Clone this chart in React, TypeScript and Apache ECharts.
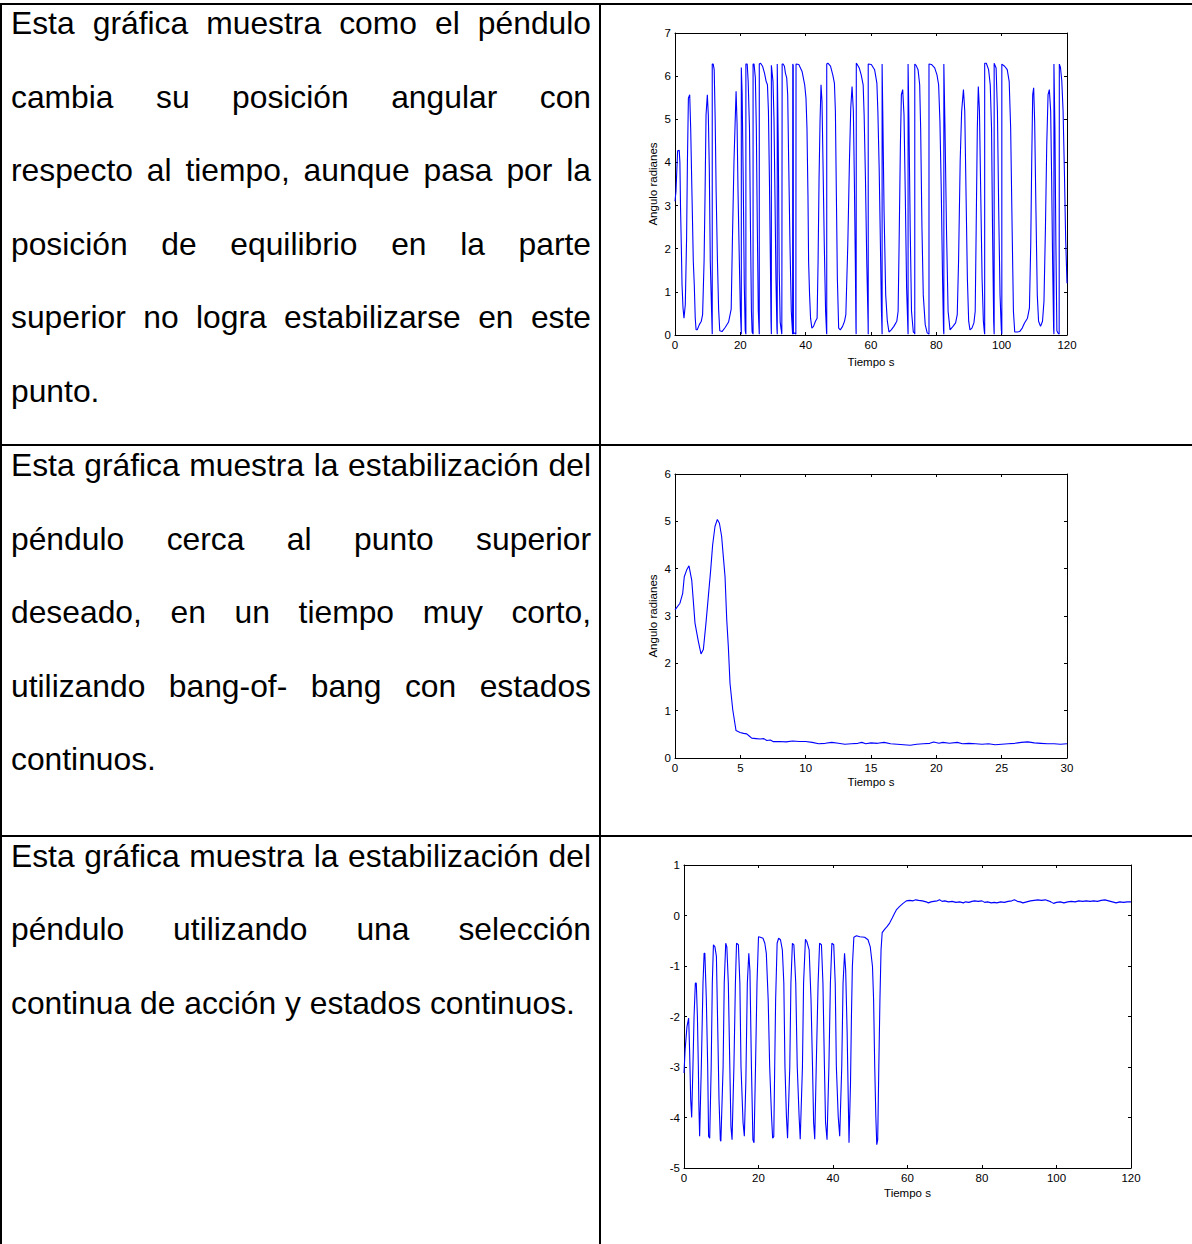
import React, { useEffect, useRef } from "react";
import * as echarts from "echarts";

// ---------- texts ----------
const CELL1_LINES = [
  "Esta gráfica muestra como el péndulo",
  "cambia su posición angular con",
  "respecto al tiempo, aunque pasa por la",
  "posición de equilibrio en la parte",
  "superior no logra estabilizarse en este",
  "punto.",
];
const CELL2_LINES = [
  "Esta gráfica muestra la estabilización del",
  "péndulo cerca al punto superior",
  "deseado, en un tiempo muy corto,",
  "utilizando bang-of- bang con estados",
  "continuos.",
];
const CELL3_LINES = [
  "Esta gráfica muestra la estabilización del",
  "péndulo utilizando una selección",
  "continua de acción y estados continuos.",
];

const X_NAME = "Tiempo s";
const Y_NAME = "Angulo radianes";

// ---------- axis ranges ----------
const X1_RANGE = [0, 120, 20];
const Y1_RANGE = [0, 7, 1];
const X2_RANGE = [0, 30, 5];
const Y2_RANGE = [0, 6, 1];
const X3_RANGE = [0, 120, 20];
const Y3_RANGE = [-5, 1, 1];

// ---------- data (time s, angle rad) ----------
const PEND1_DATA: number[][] = [
  [0, 3.1], [0.3, 3.33], [0.8, 4.27], [1.3, 4.28], [1.5, 4.0], [1.7, 2.94], [1.95, 2.0], [2.15, 1.17], [2.45, 0.63], [2.75, 0.39],
  [3.15, 0.7], [3.55, 2.25], [3.8, 4.0], [4.1, 5.49], [4.5, 5.57], [4.8, 4.8], [5.2, 3.25], [5.6, 1.71], [5.9, 1.17], [6.2, 0.39],
  [6.45, 0.12], [6.8, 0.12], [7.45, 0.24], [8.05, 0.32], [8.45, 0.47], [8.9, 1.71], [9.2, 3.25], [9.5, 5.1], [9.9, 5.57], [10.2, 5.1],
  [10.5, 3.87], [10.8, 1.71], [11.2, 0.55], [11.4, 0.02], [11.4, 6.28], [11.7, 6.28], [12.0, 6.15], [12.3, 5.0], [12.6, 3.3], [13.0, 1.7],
  [13.35, 0.6], [13.7, 0.1], [14.4, 0.08], [15.4, 0.18], [16.4, 0.3], [17.2, 0.6], [17.6, 2.3], [18.05, 4.0], [18.4, 4.9], [18.7, 5.65],
  [19.0, 4.9], [19.3, 3.3], [19.7, 1.7], [20.0, 0.6], [20.3, 0.02], [20.3, 6.2], [20.55, 5.6], [20.9, 3.5], [21.2, 1.2], [21.5, 0.1],
  [21.7, 0.02], [21.7, 6.28], [22.1, 6.28], [22.4, 5.88], [22.8, 4.8], [23.1, 2.5], [23.4, 0.55], [23.6, 0.07], [23.9, 0.02], [23.9, 6.28],
  [24.2, 6.28], [24.6, 5.96], [24.9, 4.8], [25.2, 2.5], [25.5, 0.55], [25.8, 0.02], [25.8, 6.28], [26.2, 6.3], [26.8, 6.23], [27.4, 6.07],
  [27.9, 5.88], [28.3, 5.8], [28.6, 5.2], [28.9, 3.64], [29.2, 1.7], [29.4, 0.3], [29.5, 0.02], [29.5, 6.25], [29.7, 6.25], [30.0, 5.88],
  [30.3, 5.03], [30.6, 3.25], [30.9, 1.32], [31.2, 0.16], [31.3, 0.02], [31.3, 6.28], [31.6, 4.5], [31.9, 1.5], [32.2, 0.3], [32.7, 0.02],
  [32.8, 0.02], [32.8, 6.28], [33.1, 6.28], [33.5, 6.23], [33.8, 6.07], [34.2, 5.96], [34.5, 5.57], [34.8, 4.03], [35.2, 2.1], [35.6, 0.55],
  [36.0, 0.02], [36.05, 6.28], [36.2, 6.25], [36.25, 0.03], [36.6, 0.05], [37.0, 0.02], [37.05, 6.28], [37.9, 6.27], [38.9, 6.11], [39.7, 5.8],
  [40.1, 5.49], [40.4, 4.8], [40.7, 3.25], [40.9, 1.7], [41.2, 0.93], [41.5, 0.39], [41.9, 0.16], [42.4, 0.2], [43.0, 0.32], [43.5, 0.39],
  [43.8, 1.7], [44.1, 3.64], [44.4, 4.95], [44.7, 5.8], [45.0, 5.42], [45.3, 4.03], [45.7, 2.1], [46.1, 0.55], [46.4, 0.05], [46.45, 0.02],
  [46.45, 6.28], [46.8, 6.3], [47.6, 6.23], [48.3, 6.03], [48.8, 5.84], [49.1, 5.19], [49.4, 3.25], [49.7, 1.32], [50.1, 0.16], [50.6, 0.12],
  [51.3, 0.2], [51.9, 0.32], [52.3, 0.47], [52.9, 2.1], [53.4, 4.03], [53.8, 5.26], [54.2, 5.76], [54.6, 5.19], [54.9, 3.64], [55.2, 1.7],
  [55.4, 0.16], [55.45, 0.02], [55.5, 6.3], [55.8, 6.27], [56.4, 6.19], [57.0, 6.03], [57.6, 5.8], [57.9, 5.1], [58.3, 3.64], [58.7, 1.7],
  [59.1, 0.3], [59.15, 0.02], [59.15, 6.28], [60.1, 6.27], [61.1, 6.15], [61.8, 5.84], [62.1, 5.19], [62.5, 3.87], [62.8, 2.48], [63.2, 0.55],
  [63.4, 0.02], [63.4, 6.28], [63.6, 5.19], [64.0, 2.87], [64.5, 0.93], [65.0, 0.32], [65.5, 0.07], [66.2, 0.12], [67.0, 0.2], [67.9, 0.32],
  [68.3, 0.55], [68.6, 2.1], [69.0, 4.41], [69.3, 5.57], [69.7, 5.69], [70.1, 5.11], [70.5, 3.25], [70.9, 1.09], [71.3, 0.12], [71.35, 0.02],
  [71.35, 6.28], [71.6, 5.03], [72.0, 2.48], [72.4, 0.55], [72.95, 0.07], [73.3, 0.05], [73.4, 0.02], [73.4, 6.28], [73.8, 6.25], [74.4, 6.15],
  [74.9, 5.8], [75.2, 4.8], [75.6, 2.48], [76.0, 0.93], [76.6, 0.24], [77.2, 0.05], [77.75, 0.02], [77.75, 6.28], [78.5, 6.27], [79.5, 6.19],
  [80.2, 6.03], [80.7, 5.8], [81.1, 4.95], [81.5, 3.41], [81.9, 1.32], [82.2, 0.12], [82.3, 0.02], [82.3, 6.28], [82.65, 4.8], [83.1, 2.48],
  [83.6, 0.55], [84.2, 0.12], [85.1, 0.2], [85.9, 0.28], [86.4, 0.47], [86.8, 1.7], [87.3, 4.03], [87.75, 5.19], [88.3, 5.69], [88.7, 5.19],
  [89.1, 3.25], [89.5, 1.32], [89.9, 0.32], [90.3, 0.12], [90.9, 0.16], [91.5, 0.28], [91.9, 0.55], [92.2, 2.48], [92.55, 4.8], [92.85, 5.76],
  [93.2, 5.19], [93.6, 3.25], [94.0, 1.32], [94.4, 0.32], [94.7, 0.07], [94.8, 0.02], [94.8, 6.3], [95.3, 6.3], [96.0, 6.15], [96.5, 5.8],
  [96.9, 4.8], [97.2, 2.48], [97.55, 0.32], [97.7, 0.02], [97.7, 6.3], [98.3, 6.19], [98.7, 5.19], [99.1, 2.87], [99.5, 0.93], [99.9, 0.12],
  [100.05, 0.02], [100.05, 6.28], [100.9, 6.23], [101.7, 6.15], [102.3, 5.88], [102.75, 4.8], [103.2, 2.48], [103.6, 0.55], [104.0, 0.07], [104.8, 0.07],
  [105.5, 0.08], [106.3, 0.16], [107.0, 0.28], [107.9, 0.39], [108.5, 0.63], [108.9, 2.1], [109.2, 4.03], [109.5, 5.57], [109.8, 5.73], [110.1, 4.95],
  [110.5, 2.87], [110.9, 0.93], [111.3, 0.32], [111.9, 0.2], [112.5, 0.32], [112.95, 0.78], [113.4, 2.48], [113.8, 4.41], [114.2, 5.57], [114.6, 5.69],
  [115.0, 5.19], [115.3, 3.64], [115.6, 1.7], [115.9, 0.16], [116.0, 0.02], [116.0, 6.28], [116.3, 4.8], [116.6, 2.1], [116.9, 0.1], [117.2, 0.05],
  [117.6, 0.02], [117.65, 6.28], [118.0, 6.2], [118.4, 5.9], [118.8, 5.2], [119.2, 3.8], [119.6, 2.2], [120, 1.2],
];

const PEND2_DATA: number[][] = [
  [0, 3.13], [0.38, 3.27], [0.59, 3.48], [0.71, 3.83], [0.89, 3.97], [1.07, 4.06], [1.28, 3.76], [1.53, 2.85], [1.79, 2.46], [1.99, 2.2],
  [2.17, 2.29], [2.37, 2.85], [2.55, 3.41], [2.73, 3.97], [2.88, 4.5], [3.06, 4.89], [3.24, 5.04], [3.4, 4.96], [3.57, 4.68], [3.7, 4.25],
  [3.83, 3.83], [3.96, 2.92], [4.08, 2.36], [4.21, 1.58], [4.42, 1.02], [4.67, 0.58], [4.98, 0.54], [5.25, 0.52], [5.49, 0.51], [5.7, 0.46],
  [5.87, 0.42], [6.2, 0.41], [6.51, 0.4], [6.8, 0.41], [7.02, 0.37], [7.3, 0.38], [7.53, 0.345], [8.0, 0.35], [8.5, 0.34], [9.0, 0.36],
  [9.5, 0.35], [10.0, 0.35], [10.5, 0.33], [11.0, 0.3], [11.5, 0.31], [12.0, 0.33], [12.5, 0.31], [13.0, 0.29], [13.5, 0.3], [14.0, 0.31],
  [14.3, 0.33], [14.6, 0.3], [15.0, 0.32], [15.5, 0.31], [16.0, 0.33], [16.5, 0.3], [17.0, 0.29], [17.5, 0.28], [18.0, 0.27], [18.5, 0.29],
  [19.0, 0.3], [19.5, 0.31], [19.8, 0.34], [20.2, 0.31], [20.5, 0.33], [21.0, 0.31], [21.6, 0.33], [22.0, 0.3], [22.5, 0.31], [23.0, 0.3],
  [23.5, 0.29], [24.0, 0.3], [24.5, 0.28], [25.0, 0.29], [25.5, 0.3], [26.0, 0.31], [26.5, 0.33], [27.0, 0.34], [27.5, 0.32], [28.0, 0.31],
  [28.5, 0.3], [29.0, 0.3], [29.5, 0.29], [30.0, 0.3],
];

const PEND3_DATA: number[][] = [
  [0, -3.12], [0.3, -2.66], [0.8, -2.2], [1.25, -2.03], [1.5, -2.66], [1.8, -3.65], [2.06, -4.0], [2.4, -2.99], [2.7, -2.0], [3.04, -1.34],
  [3.3, -1.34], [3.6, -2.0], [3.85, -2.99], [4.0, -3.78], [4.2, -4.37], [4.65, -2.99], [5.1, -1.34], [5.4, -0.75], [5.6, -0.75], [6.0, -1.67],
  [6.36, -2.99], [6.6, -4.37], [6.9, -4.41], [7.3, -2.99], [7.6, -1.34], [7.9, -0.58], [8.3, -0.62], [8.7, -0.81], [9.0, -2.0], [9.4, -3.65],
  [9.75, -4.44], [9.9, -4.47], [10.5, -2.99], [10.8, -1.34], [11.2, -0.55], [11.5, -0.62], [11.9, -1.34], [12.3, -2.99], [12.6, -4.18], [12.9, -4.44],
  [13.4, -2.99], [13.8, -1.34], [14.1, -0.55], [14.6, -0.58], [15.0, -1.34], [15.3, -2.99], [15.85, -4.1], [16.2, -4.37], [16.6, -3.3], [17.0, -1.34],
  [17.4, -0.75], [17.7, -1.1], [18.1, -2.99], [18.5, -4.44], [18.8, -4.5], [19.2, -2.99], [19.6, -1.34], [20.0, -0.42], [20.5, -0.43], [21.2, -0.45],
  [21.7, -0.55], [22.1, -0.75], [22.6, -1.67], [23.0, -2.99], [23.5, -3.98], [23.8, -4.41], [24.1, -4.38], [24.35, -2.99], [24.6, -1.67], [25.0, -0.55],
  [25.4, -0.45], [25.9, -0.48], [26.4, -0.68], [26.8, -1.34], [27.1, -2.99], [27.5, -3.98], [27.8, -4.41], [28.4, -2.99], [28.7, -1.34], [29.1, -0.55],
  [29.5, -0.58], [30.0, -1.34], [30.4, -2.99], [30.9, -3.98], [31.2, -4.43], [31.8, -2.99], [32.1, -1.34], [32.6, -0.47], [33.0, -0.52], [33.6, -0.68],
  [34.1, -1.67], [34.5, -2.99], [34.8, -4.1], [35.1, -4.43], [35.5, -2.99], [36.0, -1.34], [36.4, -0.55], [36.9, -0.58], [37.3, -1.34], [37.7, -2.99],
  [38.0, -4.1], [38.4, -4.44], [38.9, -2.99], [39.3, -1.34], [39.7, -0.55], [40.2, -0.58], [40.6, -1.34], [40.9, -2.99], [41.4, -3.98], [41.8, -4.37],
  [42.35, -2.99], [42.7, -1.34], [43.1, -0.75], [43.4, -1.08], [43.8, -2.33], [44.1, -3.65], [44.3, -4.5], [44.7, -3.32], [44.95, -2.0], [45.2, -1.01],
  [45.6, -0.43], [46.3, -0.4], [47.2, -0.42], [48.5, -0.43], [49.4, -0.48], [50.0, -0.62], [50.6, -1.01], [50.9, -1.67], [51.2, -2.99], [51.5, -3.98],
  [51.75, -4.54], [52.0, -4.44], [52.3, -2.99], [52.6, -1.67], [52.9, -0.68], [53.2, -0.34], [53.9, -0.27], [54.5, -0.22], [55.2, -0.15], [55.9, -0.05],
  [56.5, 0.04], [57.0, 0.11], [57.9, 0.18], [58.8, 0.24], [59.7, 0.29], [60.6, 0.3], [61.5, 0.29], [62.2, 0.31], [63, 0.3], [64, 0.29],
  [65, 0.27], [65.6, 0.25], [66.3, 0.27], [67, 0.28], [68, 0.29], [68.6, 0.31], [69.3, 0.28], [70, 0.29], [71, 0.27], [72, 0.28],
  [73, 0.26], [74, 0.27], [75, 0.25], [75.6, 0.27], [76.5, 0.26], [77.3, 0.28], [78, 0.29], [79, 0.28], [80, 0.29], [80.7, 0.26],
  [81.5, 0.27], [82.5, 0.25], [83.3, 0.26], [84, 0.25], [85, 0.27], [86, 0.26], [87, 0.28], [88, 0.29], [88.7, 0.31], [89.5, 0.28],
  [90.3, 0.27], [91, 0.25], [92, 0.27], [93, 0.29], [94, 0.3], [95, 0.31], [96, 0.3], [97, 0.31], [97.8, 0.29], [98.5, 0.27],
  [99.2, 0.24], [100, 0.26], [101, 0.27], [102, 0.25], [103, 0.27], [104, 0.28], [105, 0.27], [106, 0.29], [107, 0.28], [108, 0.29],
  [109, 0.28], [110, 0.29], [111, 0.28], [112, 0.3], [113, 0.31], [114, 0.29], [115, 0.27], [116, 0.25], [117, 0.27], [118, 0.26],
  [119, 0.27], [120, 0.27],
];

// ---------- layout ----------
const FONT = '"Liberation Sans", Arial, Helvetica, sans-serif';
const W = 1192;
const H = 1244;
const TEXT_LEFT = 11;
const TEXT_WIDTH = 580;
const TEXT_SIZE = 31.8;
const LINE_PITCH = 73.5;
const CELL_BASELINES = [34, 476, 866.5];

const GRIDS = [
  { left: 675, top: 33, width: 392, height: 302, xGap: 21, yGap: 16, labelSize: 11.5 },
  { left: 675, top: 474, width: 392, height: 284, xGap: 18, yGap: 16, labelSize: 11.5 },
  { left: 684, top: 865, width: 447, height: 303, xGap: 19, yGap: 16, labelSize: 11.5 },
];

function axisPair(kind: "x" | "y", gi: number, range: number[], name: string | null, gap: number, size: number) {
  const base = {
    type: "value",
    gridIndex: gi,
    min: range[0],
    max: range[1],
    interval: range[2],
    splitLine: { show: false },
    axisLine: { show: true, onZero: false, lineStyle: { color: "#000", width: 1 } },
    axisTick: { show: true, inside: true, length: 3, lineStyle: { color: "#000", width: 1 } },
  };
  const main: any = {
    ...base,
    position: kind === "x" ? "bottom" : "left",
    axisLabel: { color: "#000", fontSize: size, fontFamily: FONT, margin: 4 },
  };
  if (name) {
    main.name = name;
    main.nameLocation = "middle";
    main.nameGap = gap;
    main.nameTextStyle = { color: "#000", fontSize: 11.5, fontFamily: FONT };
  }
  const mirror: any = {
    ...base,
    position: kind === "x" ? "top" : "right",
    axisLabel: { show: false },
  };
  return [main, mirror];
}

function buildOption() {
  const xAxis = [
    ...axisPair("x", 0, X1_RANGE, X_NAME, GRIDS[0].xGap, GRIDS[0].labelSize),
    ...axisPair("x", 1, X2_RANGE, X_NAME, GRIDS[1].xGap, GRIDS[1].labelSize),
    ...axisPair("x", 2, X3_RANGE, X_NAME, GRIDS[2].xGap, GRIDS[2].labelSize),
  ];
  const yAxis = [
    ...axisPair("y", 0, Y1_RANGE, Y_NAME, GRIDS[0].yGap, GRIDS[0].labelSize),
    ...axisPair("y", 1, Y2_RANGE, Y_NAME, GRIDS[1].yGap, GRIDS[1].labelSize),
    ...axisPair("y", 2, Y3_RANGE, null, GRIDS[2].yGap, GRIDS[2].labelSize),
  ];
  const datasets = [PEND1_DATA, PEND2_DATA, PEND3_DATA];
  return {
    animation: false,
    backgroundColor: "transparent",
    grid: GRIDS.map((g) => ({ left: g.left, top: g.top, width: g.width, height: g.height, containLabel: false })),
    xAxis,
    yAxis,
    series: datasets.map((d, i) => ({
      type: "line",
      xAxisIndex: i * 2,
      yAxisIndex: i * 2,
      data: d,
      showSymbol: false,
      symbol: "none",
      clip: true,
      lineStyle: { color: "#0000ff", width: 1.1 },
      itemStyle: { color: "#0000ff" },
    })),
  };
}

function CellText({ lines, baseline }: { lines: string[]; baseline: number }) {
  return (
    <>
      {lines.map((ln, i) => {
        const last = i === lines.length - 1;
        return (
          <div
            key={i}
            style={{
              position: "absolute",
              left: TEXT_LEFT,
              width: TEXT_WIDTH,
              top: baseline + i * LINE_PITCH - 27,
              fontSize: TEXT_SIZE,
              lineHeight: "32px",
              fontFamily: FONT,
              color: "#000",
              whiteSpace: "nowrap",
              textAlign: last ? "left" : "justify",
              textAlignLast: last ? "left" : "justify",
            } as any}
          >
            {ln}
          </div>
        );
      })}
    </>
  );
}

const BORDERS = [
  { left: 0, top: 3, width: W, height: 2 },
  { left: 0, top: 3, width: 2, height: H },
  { left: 599, top: 3, width: 2, height: H },
  { left: 0, top: 444, width: W, height: 2 },
  { left: 0, top: 835, width: W, height: 2 },
];

export default function App() {
  const ref = useRef<HTMLDivElement>(null);
  useEffect(() => {
    if (!ref.current) return;
    const chart = echarts.init(ref.current, null, { renderer: "svg" });
    chart.setOption(buildOption() as any);
    return () => chart.dispose();
  }, []);
  return (
    <div style={{ position: "absolute", left: 0, top: 0, width: W, height: H, background: "#fff", overflow: "hidden" }}>
      <div ref={ref} style={{ position: "absolute", left: 0, top: 0, width: W, height: H }} />
      {BORDERS.map((b, i) => (
        <div key={i} style={{ position: "absolute", background: "#000", ...b }} />
      ))}
      <CellText lines={CELL1_LINES} baseline={CELL_BASELINES[0]} />
      <CellText lines={CELL2_LINES} baseline={CELL_BASELINES[1]} />
      <CellText lines={CELL3_LINES} baseline={CELL_BASELINES[2]} />
    </div>
  );
}
